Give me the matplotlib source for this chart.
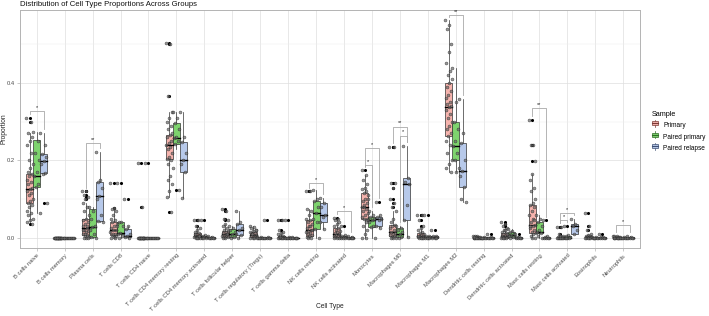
import numpy as np
import matplotlib
matplotlib.use("Agg")
import matplotlib.pyplot as plt
from matplotlib.patches import Rectangle
from matplotlib.lines import Line2D
from matplotlib.legend_handler import HandlerBase

plt.rcParams['font.family'] = ['Liberation Sans', 'DejaVu Sans']

cats = ["B cells naive", "B cells memory", "Plasma cells", "T cells CD8", "T cells CD4 naive",
        "T cells CD4 memory resting", "T cells CD4 memory activated", "T cells follicular helper",
        "T cells regulatory (Tregs)", "T cells gamma delta", "NK cells resting", "NK cells activated",
        "Monocytes", "Macrophages M0", "Macrophages M1", "Macrophages M2", "Dendritic cells resting",
        "Dendritic cells activated", "Mast cells resting", "Mast cells activated", "Eosinophils",
        "Neutrophils"]
groups = ["Primary", "Paired primary", "Paired relapse"]
fills = ["#F6B4AE", "#7ED36E", "#B7C9EA"]
edges = ["#7A3A36", "#2E6B26", "#3D4F73"]

# box stats: q1, median, q3, lower whisker, upper whisker
prim_q1 = [.09, 0, .008, .008, 0, .204, .002, .003, .002, 0, .005, .003, .049, .005, .002, .263, 0, .001, .013, 0, 0, 0]
prim_med = [.125, 0, .025, .02, 0, .24, .006, .01, .008, .002, .02, .01, .08, .015, .005, .339, .001, .006, .034, .001, .002, .001]
prim_q3 = [.165, 0, .05, .04, 0, .266, .012, .018, .016, .006, .046, .025, .116, .034, .012, .4, .003, .012, .085, .003, .005, .003]
prim_lo = [.04, 0, 0, 0, 0, .105, 0, 0, 0, 0, 0, 0, 0, 0, 0, .171, 0, 0, 0, 0, 0, 0]
prim_hi = [.27, 0, .09, .075, 0, .325, .025, .035, .03, .015, .075, .05, .163, .07, .025, .561, .006, .025, .165, .006, .01, .006]

pp_q1 = [.132, 0, .003, .01, 0, .243, 0, .003, 0, 0, .023, 0, .028, .003, 0, .2, 0, .003, .012, 0, 0, 0]
pp_med = [.16, 0, .028, .012, 0, .258, .002, .01, .001, 0, .065, .002, .045, .01, .002, .238, .001, .008, .015, .001, .001, .001]
pp_q3 = [.253, 0, .075, .042, 0, .297, .005, .023, .002, .001, .095, .005, .054, .026, .004, .3, .002, .015, .042, .005, .002, .002]
pp_lo = [.065, 0, 0, 0, 0, .23, 0, 0, 0, 0, 0, 0, 0, 0, 0, .171, 0, 0, 0, 0, 0, 0]
pp_hi = [.274, 0, .08, .042, 0, .325, .008, .03, .003, .002, .124, .008, .07, .03, .006, .438, .003, .022, .06, .008, .003, .003]

pr_q1 = [.168, 0, .044, .003, 0, .17, 0, .008, 0, 0, .042, 0, .03, .046, 0, .131, 0, 0, 0, .01, 0, 0]
pr_med = [.199, 0, .107, .005, 0, .2, .001, .02, .001, 0, .06, .001, .05, .139, .002, .173, .001, .001, .001, .03, .001, .001]
pr_q3 = [.217, 0, .145, .022, 0, .248, .003, .036, .002, .001, .09, .003, .054, .155, .004, .244, .002, .002, .003, .035, .002, .003]
pr_lo = [.165, 0, .04, 0, 0, .103, 0, 0, 0, 0, .023, 0, .025, .003, 0, .093, 0, 0, 0, .01, 0, 0]
pr_hi = [.27, 0, .222, .03, 0, .325, .005, .07, .003, .002, .103, .005, .06, .238, .006, .359, .003, .003, .005, .049, .003, .005]

# per-sample proportions
prim_pts = [
    [.31, .30, .27, .26, .25, .24, .22, .2, .19, .18, .17, .165, .16, .15, .145, .14, .13, .125, .12, .115, .11, .1, .095, .09, .085, .08, .07, .065, .06, .05, .045, .04, .035],
    [0] * 22,
    [.12, .12, .11, .105, .1, .09, .08, .07, .06, .05, .045, .04, .035, .03, .025, .02, .018, .015, .01, .008, .005, .003, 0, 0, 0, .01, .02, .03],
    [.142, .077, .075, .07, .06, .05, .045, .04, .035, .03, .025, .02, .02, .015, .01, .008, .005, .003, 0, 0, .01, .03],
    [.194, .08] + [0] * 20,
    [.503, .5, .366, .325, .31, .3, .29, .28, .27, .266, .26, .25, .245, .24, .235, .23, .22, .21, .204, .2, .19, .18, .16, .15, .14, .12, .105, .067],
    [.046, .046, .03, .025, .02, .015, .012, .01, .008, .006, .005, .004, .003, .002, .001, 0, 0, 0, .01, .006],
    [.075, .07, .05, .045, .035, .03, .025, .02, .018, .015, .012, .01, .008, .006, .004, .003, .002, 0, 0, .01],
    [.03, .028, .025, .02, .018, .016, .012, .01, .008, .006, .004, .002, .001, 0, 0, .01, .02],
    [.045, .045, .02, .015, .012, .01, .006, .004, .003, .002, .001, 0, 0, 0, 0, .002],
    [.12, .12, .075, .07, .06, .05, .046, .04, .035, .03, .025, .02, .018, .015, .012, .01, .008, .005, .003, 0, 0, .02, .03],
    [.052, .05, .045, .04, .035, .03, .025, .02, .018, .015, .012, .01, .008, .006, .005, .003, .002, 0, 0, 0],
    [.175, .163, .15, .14, .13, .125, .12, .116, .11, .1, .095, .09, .085, .08, .075, .07, .065, .06, .055, .05, .049, .045, .04, .03, .02, .01, 0, 0, .08, .1],
    [.235, .235, .142, .142, .13, .1, .09, .08, .07, .05, .04, .034, .03, .025, .02, .015, .012, .01, .008, .005, .003, 0, 0, 0],
    [.058, .058, .045, .03, .025, .02, .015, .012, .01, .008, .005, .004, .003, .002, .001, 0, 0, 0, .006],
    [.561, .55, .54, .5, .48, .45, .43, .42, .41, .4, .39, .38, .37, .36, .35, .345, .34, .339, .33, .32, .31, .3, .29, .28, .27, .263, .25, .24, .22, .2, .19, .18, .171],
    [.006, .005, .004, .003, .002, .001, 0, 0, 0, 0, 0, 0, .001, .002],
    [.042, .035, .03, .025, .02, .015, .012, .01, .008, .006, .005, .003, .001, 0, 0, 0, .01, .02],
    [.305, .24, .24, .199, .165, .15, .13, .12, .1, .09, .085, .08, .07, .06, .05, .04, .034, .03, .025, .02, .015, .013, .01, .005, 0, 0, .03, .045],
    [.029, .029, .01, .006, .004, .003, .002, .001, 0, 0, 0, 0, 0, .001],
    [.065, .03, .02, .01, .008, .005, .004, .003, .002, .001, 0, 0, 0, 0],
    [.006, .005, .004, .003, .002, .001, 0, 0, 0, 0, 0, 0],
]
pp_pts = [
    [.274, .25, .22, .2, .17, .16, .14, .132, .065],
    [0] * 8,
    [.08, .07, .05, .03, .028, .02, .01, .003, 0],
    [.142, .042, .04, .03, .012, .01, .005, 0],
    [.194] + [0] * 7,
    [.325, .31, .297, .28, .26, .258, .25, .243, .124],
    [.045, .008, .005, .003, .002, .001, 0, 0],
    [.03, .025, .02, .015, .01, .005, .003, 0],
    [.003, .002, .001, .001, 0, 0, 0, 0],
    [.045, .002, .001, 0, 0, 0, 0, 0],
    [.124, .1, .095, .08, .065, .05, .04, .023, 0],
    [.03, .008, .005, .003, .002, .001, 0, 0],
    [.07, .06, .054, .05, .045, .04, .03, .028, 0],
    [.03, .026, .02, .015, .01, .005, .003, 0],
    [.058, .006, .004, .002, .001, 0, 0, 0],
    [.438, .35, .3, .28, .25, .238, .22, .2, .18, .171],
    [.003, .002, .001, 0, 0, 0, 0, 0],
    [.022, .018, .015, .01, .008, .005, .003, 0],
    [.06, .05, .042, .03, .02, .015, .012, .005, 0],
    [.03, .008, .005, .002, .001, 0, 0, 0],
    [.003, .002, .001, 0, 0, 0, 0, 0],
    [.003, .002, .001, 0, 0, 0, 0, 0],
]
pr_pts = [
    [.27, .24, .217, .21, .199, .19, .168, .165, .09],
    [0] * 7,
    [.222, .15, .145, .13, .107, .1, .06, .044, .04],
    [.1, .03, .022, .01, .005, .003, 0],
    [0] * 7,
    [.325, .26, .248, .22, .2, .19, .17, .103],
    [.005, .003, .001, 0, 0, 0, 0],
    [.07, .04, .036, .025, .02, .01, .008, 0],
    [.045, .002, .001, 0, 0, 0, 0],
    [.002, .001, 0, 0, 0, 0, 0],
    [.103, .09, .08, .06, .055, .042, .023],
    [.005, .003, .001, 0, 0, 0, 0],
    [.093, .06, .054, .05, .045, .03, .025],
    [.238, .155, .145, .139, .085, .046, .003],
    [.02, .006, .004, .002, 0, 0, 0],
    [.359, .27, .244, .2, .173, .16, .131, .1, .093],
    [.01, .002, .001, 0, 0, 0, 0],
    [.01, .003, .002, .001, 0, 0, 0],
    [.045, .005, .003, .001, 0, 0, 0],
    [.049, .035, .03, .02, .01],
    [.01, .003, .002, .001, 0, 0, 0],
    [.005, .003, .001, 0, 0, 0, 0],
]

# significance brackets: category, group a, group b, height, label
sig_cat = [0, 2, 10, 11, 12, 12, 13, 13, 15, 18, 19, 19, 21]
sig_a = [0, 0, 0, 0, 0, 0, 0, 1, 0, 0, 0, 0, 0]
sig_b = [2, 2, 2, 2, 1, 2, 2, 2, 2, 2, 1, 2, 2]
sig_y = [.328, .245, .142, .07, .188, .232, .287, .264, .575, .335, .046, .065, .033]
sig_lab = ["*", "**", "*", "*", "*", "*", "**", "*", "**", "**", "*", "*", "*"]

stats = [(prim_q1, prim_med, prim_q3, prim_lo, prim_hi),
         (pp_q1, pp_med, pp_q3, pp_lo, pp_hi),
         (pr_q1, pr_med, pr_q3, pr_lo, pr_hi)]
points = [prim_pts, pp_pts, pr_pts]

fig = plt.figure(figsize=(7.09, 3.16), dpi=100)
ax = fig.add_axes([20 / 709, 68 / 316, 620 / 709, 238 / 316])

dodge = [-0.25, 0.0, 0.25]
bw = 0.25
x = np.arange(len(cats))

for g in range(3):
    q1, med, q3, lo, hi = stats[g]
    for i in range(len(cats)):
        xc = x[i] + dodge[g]
        ax.plot([xc, xc], [q3[i], hi[i]], color="#333333", lw=0.5, zorder=2)
        ax.plot([xc, xc], [lo[i], q1[i]], color="#333333", lw=0.5, zorder=2)
        ax.add_patch(Rectangle((xc - bw / 2, q1[i]), bw, q3[i] - q1[i], facecolor=fills[g],
                               edgecolor="#333333", lw=0.5, zorder=3))
        ax.plot([xc - bw / 2, xc + bw / 2], [med[i], med[i]], color="black", lw=1.0, zorder=4)
        vals = np.array(points[g][i], dtype=float)
        out = vals[(vals > hi[i] + 1e-9) | (vals < lo[i] - 1e-9)]
        ax.scatter(np.full(len(out), xc), out, s=5, color="black", lw=0, zorder=5)
        j = np.arange(len(vals))
        jit = ((j * 0.618034) % 1 - 0.5) * 0.24
        ax.scatter(xc + jit, vals, s=4.5, facecolor="#6E6E6E", edgecolor="#1A1A1A",
                   linewidths=0.35, alpha=0.7, zorder=6)

for k in range(len(sig_cat)):
    i = sig_cat[k]
    xa = x[i] + dodge[sig_a[k]]
    xb = x[i] + dodge[sig_b[k]]
    ya = min(max(points[sig_a[k]][i]) + 0.01, sig_y[k] - 0.004)
    yb = min(max(points[sig_b[k]][i]) + 0.01, sig_y[k] - 0.004)
    ax.plot([xa, xa, xb, xb], [ya, sig_y[k], sig_y[k], yb], color="#A8A8A8", lw=0.6, zorder=1)
    ax.text((xa + xb) / 2, sig_y[k] + 0.003, sig_lab[k], ha="center", va="bottom",
            fontsize=4, color="#222222")

ax.set_xlim(-0.6, len(cats) - 0.4)
ax.set_ylim(-0.026, 0.588)
ax.set_yticks([0, 0.2, 0.4])
ax.set_yticklabels(["0.0", "0.2", "0.4"])
ax.set_yticks([0.1, 0.3, 0.5], minor=True)
ax.set_xticks(x)
ax.set_xticklabels(cats, rotation=45, ha="right", rotation_mode="anchor")
ax.tick_params(axis="both", which="major", labelsize=4.2, colors="#B3B3B3", labelcolor="#4D4D4D",
               length=2, width=0.5, pad=1.5)
ax.tick_params(axis="y", which="minor", length=0)
ax.grid(True, which="major", color="#DEDEDE", lw=0.5)
ax.grid(True, which="minor", axis="y", color="#EEEEEE", lw=0.35)
ax.set_axisbelow(True)
for s in ax.spines.values():
    s.set_color("#B3B3B3")
    s.set_linewidth(0.7)

ax.set_xlabel("Cell Type", fontsize=4.8, color="#222222")
ax.set_ylabel("Proportion", fontsize=4.8, color="#222222")
ax.xaxis.set_label_coords(0.5, -0.232)
ax.yaxis.set_label_coords(-0.02, 0.5)
fig.text(20 / 709, 1 - 4.5 / 316, "Distribution of Cell Type Proportions Across Groups",
         ha="left", va="center", fontsize=5.6, color="#111111")


class BoxKey(HandlerBase):
    def __init__(self, fill, edge):
        super().__init__()
        self.fill = fill
        self.edge = edge

    def create_artists(self, legend, orig, xd, yd, w, h, fontsize, trans):
        cx = xd + w / 2
        r = Rectangle((xd + w * 0.1, yd + h * 0.2), w * 0.8, h * 0.6, facecolor=self.fill,
                      edgecolor=self.edge, lw=0.5, transform=trans)
        l1 = Line2D([cx, cx], [yd - h * 0.05, yd + h * 1.05], color=self.edge, lw=0.5, transform=trans)
        l2 = Line2D([xd + w * 0.1, xd + w * 0.9], [yd + h / 2, yd + h / 2], color=self.edge,
                    lw=0.8, transform=trans)
        return [l1, r, l2]


handles = [Rectangle((0, 0), 1, 1) for _ in groups]
hmap = {handles[g]: BoxKey(fills[g], edges[g]) for g in range(3)}
leg = fig.legend(handles, groups, handler_map=hmap, loc="upper left",
                 bbox_to_anchor=(649 / 709, 1 - 108 / 316), frameon=False, fontsize=4.7,
                 title="Sample", title_fontsize=5.2, handlelength=1.15, handleheight=1.05,
                 handletextpad=0.6, labelspacing=0.65, borderaxespad=0)
leg._legend_box.align = "left"

fig.savefig("out.png", dpi=100)
